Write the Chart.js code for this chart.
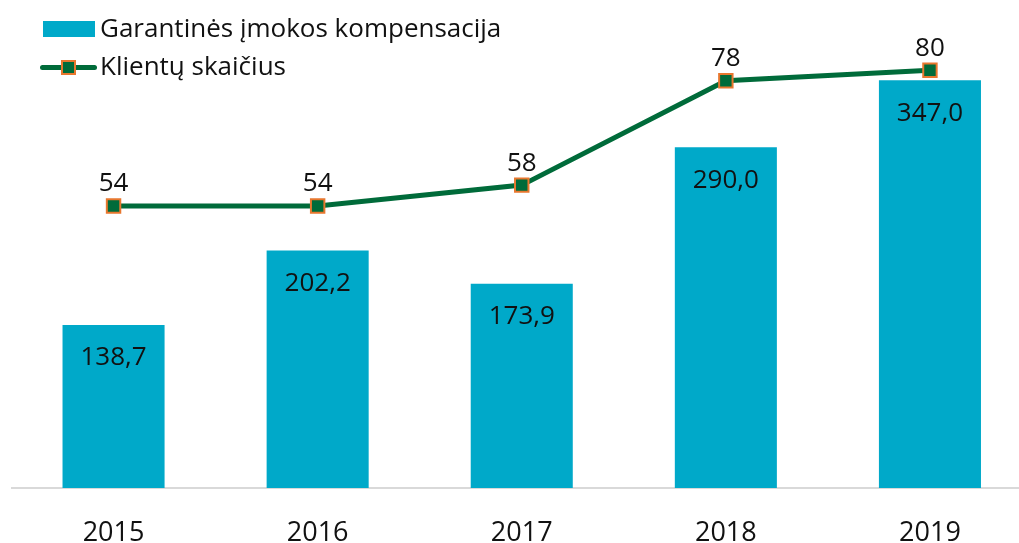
<!DOCTYPE html>
<html>
<head>
<meta charset="utf-8">
<script src="https://cdn.jsdelivr.net/npm/chart.js@4/dist/chart.umd.min.js"></script>
<style>
html,body{margin:0;padding:0;background:#fff;overflow:hidden;width:1019px;height:543px;}
#wrap{position:relative;width:1044px;height:543px;}
#legend{position:absolute;left:0;top:0;font-family:"Open Sans",sans-serif;font-size:26px;color:#111;}
.item{position:absolute;white-space:nowrap;line-height:1;}
</style>
</head>
<body>
<div id="wrap">
<canvas id="c" width="1044" height="543"></canvas>
<div id="legend">
  <div class="item" style="left:43px;top:21px;width:52px;height:16px;background:#00A9C9;"></div>
  <div class="item" style="left:100px;top:14px;">Garantinės įmokos kompensacija</div>
  <div class="item" style="left:40px;top:65px;width:57px;height:5px;border-radius:3px;background:#006B3A;"></div>
  <div class="item" style="left:61px;top:60px;width:11px;height:11px;background:#006B3A;border:2px solid #E8772E;"></div>
  <div class="item" style="left:100px;top:52px;">Klientų skaičius</div>
</div>
</div>
<script>
const categories = ["2015","2016","2017","2018","2019"];
const compensation = [138.7, 202.2, 173.9, 290.0, 347.0];
const clients = [54, 54, 58, 78, 80];
const seriesNames = ["Garantinės įmokos kompensacija", "Klientų skaičius"];

const labelPlugin = {
  id: 'valueLabels',
  afterDatasetsDraw(chart) {
    const ctx = chart.ctx;
    ctx.save();
    ctx.font = '26px "Open Sans", sans-serif';
    ctx.fillStyle = '#111';
    ctx.textAlign = 'center';
    ctx.textBaseline = 'middle';
    chart.getDatasetMeta(1).data.forEach((el, i) => {
      ctx.fillText(compensation[i].toFixed(1).replace('.', ','), el.x, el.y + 33);
    });
    chart.getDatasetMeta(0).data.forEach((el, i) => {
      ctx.fillText(String(clients[i]), el.x, el.y - 22);
    });
    ctx.restore();
  }
};

new Chart(document.getElementById('c'), {
  data: {
    labels: categories,
    datasets: [
      {
        type: 'line',
        label: seriesNames[1],
        data: clients,
        yAxisID: 'y1',
        borderColor: '#006B3A',
        borderWidth: 5,
        backgroundColor: '#006B3A',
        pointStyle: 'rect',
        pointRadius: 9.5,
        pointBorderColor: '#E8772E',
        pointBorderWidth: 2,
        pointBackgroundColor: '#006B3A',
        tension: 0,
        order: 0
      },
      {
        type: 'bar',
        label: seriesNames[0],
        data: compensation,
        yAxisID: 'y',
        backgroundColor: '#00A9C9',
        categoryPercentage: 0.5,
        barPercentage: 1.0,
        order: 1
      }
    ]
  },
  options: {
    responsive: false,
    animation: false,
    layout: { padding: { left: 10, right: 12, top: 18, bottom: 0 } },
    plugins: { legend: { display: false }, tooltip: { enabled: false } },
    scales: {
      x: {
        grid: { display: false, drawTicks: false },
        border: { display: true, color: '#D9D9D9', width: 2 },
        ticks: { font: { family: '"Open Sans", sans-serif', size: 27 }, color: '#111', padding: 29 },
        afterFit(s) { s.height = 55; }
      },
      y: { display: false, min: 0, max: 400 },
      y1: { display: false, min: 0, max: 90 }
    }
  },
  plugins: [labelPlugin]
});
</script>
</body>
</html>
